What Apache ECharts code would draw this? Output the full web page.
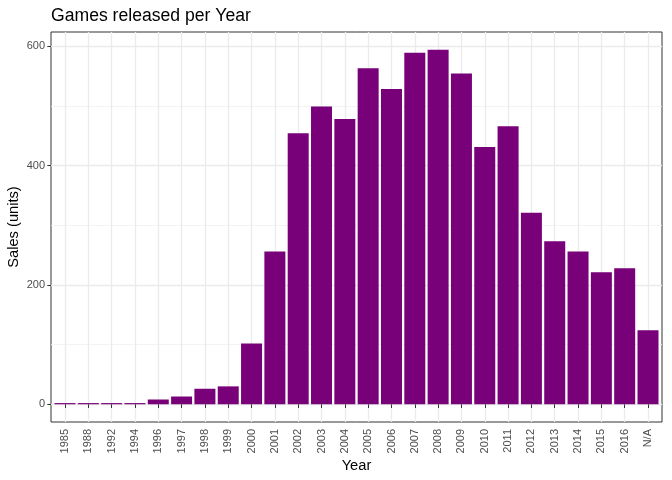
<!DOCTYPE html>
<html>
<head>
<meta charset="utf-8">
<title>Games released per Year</title>
<script src="https://cdn.jsdelivr.net/npm/echarts@6/dist/echarts.min.js"></script>
<style>
  html, body { margin: 0; padding: 0; background: #fff; }
  #games-chart { width: 672px; height: 480px; }
</style>
</head>
<body>
<div id="games-chart"></div>
<script>
// release year labels (category order as in the plot)
const years = ['1985', '1988', '1992', '1994', '1996', '1997', '1998', '1999', '2000', '2001',
    '2002', '2003', '2004', '2005', '2006', '2007', '2008', '2009', '2010', '2011',
    '2012', '2013', '2014', '2015', '2016', 'N/A'];

// number of games per year
const counts = [2, 2, 2, 2, 8, 13, 26, 30, 102, 256,
    454, 499, 478, 563, 528, 589, 594, 554, 431, 466,
    321, 273, 256, 221, 228, 124];

const yBreaks = [0, 200, 400, 600];
const yMinorBreaks = [100, 300, 500];

function renderChart() {
    const chart = echarts.init(document.getElementById('games-chart'));

    // ggplot style: discrete axis padded by 0.6, continuous axis by 5%
    const positions = years.map((y, i) => i + 1);
    const maxVal = Math.max(...counts);
    const yPad = maxVal * 0.05;

    const font = 'Liberation Sans, Arial, Helvetica, sans-serif';
    const gridColor = '#ebebeb';

    const option = {
        animation: false,
        textStyle: { fontFamily: font },
        title: {
            text: 'Games released per Year',
            left: 51,
            top: 7,
            padding: 0,
            textStyle: { fontSize: 17.6, fontWeight: 'normal', color: '#000', fontFamily: font }
        },
        grid: {
            left: 51,
            right: 10,
            top: 32,
            bottom: 58,
            show: true,
            borderColor: '#333333',
            borderWidth: 1,
            backgroundColor: '#fff',
            containLabel: false,
            outerBoundsMode: 'none'
        },
        xAxis: {
            type: 'value',
            min: 0.4,
            max: years.length + 0.6,
            name: 'Year',
            nameLocation: 'middle',
            nameGap: 36,
            nameMoveOverlap: false,
            nameTextStyle: { fontSize: 14.67, color: '#000', fontFamily: font },
            axisLine: { show: false },
            axisTick: {
                show: true,
                length: 3.7,
                customValues: positions,
                lineStyle: { color: '#333333', width: 1 }
            },
            axisLabel: {
                customValues: positions,
                rotate: 90,
                margin: 7,
                fontSize: 11,
                color: '#4d4d4d',
                fontFamily: font,
                formatter: v => years[Math.round(v) - 1]
            },
            splitLine: { show: true, lineStyle: { color: gridColor, width: 1.3 } }
        },
        yAxis: [
            {
                type: 'value',
                min: -yPad,
                max: maxVal + yPad,
                name: 'Sales (units)',
                nameLocation: 'middle',
                nameGap: 30,
                nameMoveOverlap: false,
                nameTextStyle: { fontSize: 14.67, color: '#000', fontFamily: font },
                axisLine: { show: false },
                axisTick: {
                    show: true,
                    length: 3.7,
                    customValues: yBreaks,
                    lineStyle: { color: '#333333', width: 1 }
                },
                axisLabel: {
                    customValues: yBreaks,
                    margin: 6,
                    fontSize: 11,
                    color: '#4d4d4d',
                    fontFamily: font
                },
                splitLine: { show: true, lineStyle: { color: gridColor, width: 1.3 } }
            },
            {
                // minor grid lines only
                type: 'value',
                min: -yPad,
                max: maxVal + yPad,
                position: 'left',
                axisLine: { show: false },
                axisTick: { show: false, customValues: yMinorBreaks },
                axisLabel: { show: false, customValues: yMinorBreaks },
                splitLine: { show: true, lineStyle: { color: '#f0f0f0', width: 0.8 } }
            }
        ],
        series: [
            {
                type: 'bar',
                yAxisIndex: 0,
                barWidth: 21,
                itemStyle: { color: '#780078' },
                data: counts.map((c, i) => [positions[i], c])
            }
        ]
    };

    chart.setOption(option);
}

document.addEventListener('DOMContentLoaded', renderChart);
</script>
</body>
</html>
